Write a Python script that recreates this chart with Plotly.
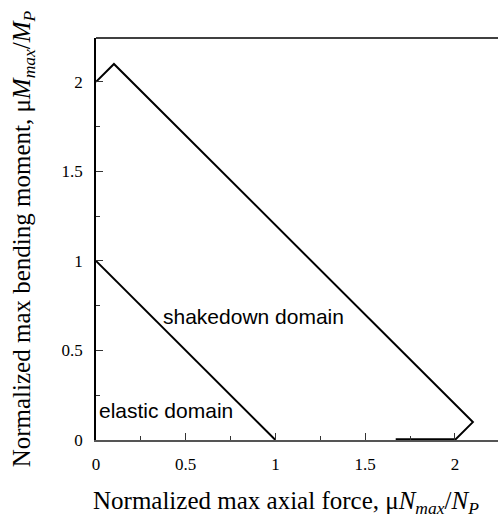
import plotly.graph_objects as go

# Data
shake_x = [0, 0.1, 2.1, 2.0]
shake_y = [2.0, 2.1, 0.1, 0.0]
thick_x = [1.67, 2.0]
thick_y = [0.0, 0.0]
elastic_x = [0, 1]
elastic_y = [1, 0]
tick_vals = [0, 0.5, 1, 1.5, 2]
tick_text = ["0", "0.5", "1", "1.5", "2"]

fig = go.Figure()
fig.add_trace(go.Scatter(x=shake_x, y=shake_y, mode="lines",
                         line=dict(color="black", width=2), cliponaxis=False))
fig.add_trace(go.Scatter(x=thick_x, y=thick_y, mode="lines",
                         line=dict(color="black", width=3.5), cliponaxis=False))
fig.add_trace(go.Scatter(x=elastic_x, y=elastic_y, mode="lines",
                         line=dict(color="black", width=2), cliponaxis=False))

fig.add_annotation(x=0.88, y=0.69, text="shakedown domain", showarrow=False,
                   font=dict(family="Liberation Sans, Arial", size=21, color="black"))
fig.add_annotation(x=0.39, y=0.165, text="elastic domain", showarrow=False,
                   font=dict(family="Liberation Sans, Arial", size=21, color="black"))

title_font = dict(family="Liberation Serif, Times New Roman", size=25, color="black")
# x-axis title (as annotation to match its horizontal position)
fig.add_annotation(xref="paper", yref="paper", x=0.473, y=0, yanchor="middle",
                   yshift=-62, showarrow=False, font=title_font,
                   text="Normalized max axial force, μ<i>N</i><sub><i>max</i></sub>/<i>N</i><sub><i>P</i></sub>")

# top border
fig.add_shape(type="line", xref="paper", yref="paper", x0=0, x1=1, y0=1, y1=1,
              line=dict(color="black", width=1.5))

axis_font = dict(family="Liberation Serif, Times New Roman", size=17, color="black")
fig.update_layout(
    width=498, height=517,
    margin=dict(l=96, r=0, t=38, b=77),
    plot_bgcolor="white", paper_bgcolor="white",
    showlegend=False,
    xaxis=dict(range=[0, 2.24], tickvals=tick_vals, ticktext=tick_text,
               ticks="inside", ticklen=7, tickcolor="#333", tickwidth=1,
               minor=dict(ticks="inside", ticklen=4, dtick=0.25, tickcolor="#333"),
               showline=True, linecolor="#555", linewidth=1.5, showgrid=False, zeroline=False,
               tickfont=axis_font, ticklabelstandoff=8),
    yaxis=dict(range=[0, 2.245], tickvals=tick_vals, ticktext=tick_text,
               ticks="inside", ticklen=7, tickcolor="#333", tickwidth=1,
               minor=dict(ticks="inside", ticklen=4, dtick=0.25, tickcolor="#333"),
               showline=True, linecolor="black", linewidth=1.5, showgrid=False, zeroline=False,
               tickfont=axis_font, ticklabelstandoff=8,
               title=dict(text="Normalized max bending moment, μ<i>M</i><sub><i>max</i></sub>/<i>M</i><sub><i>P</i></sub>",
                          font=title_font, standoff=24)),
)

fig.write_html("out.html")
